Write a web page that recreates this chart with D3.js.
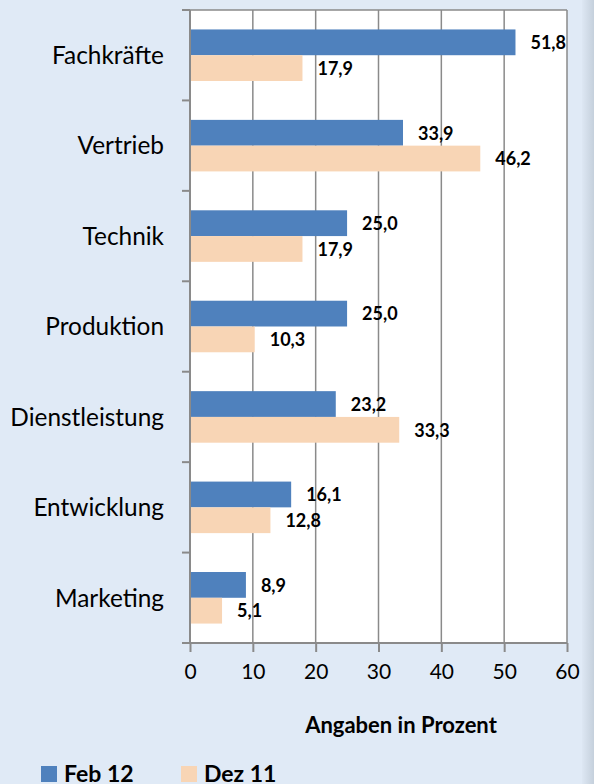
<!DOCTYPE html>
<html><head><meta charset="utf-8">
<script src="https://cdn.jsdelivr.net/npm/d3@7"></script>
<style>html,body{margin:0;padding:0;background:#e0eaf6;}svg{display:block;}</style>
</head><body>
<script>
const categories = ["Fachkräfte","Vertrieb","Technik","Produktion","Dienstleistung","Entwicklung","Marketing"];
const seriesNames = ["Feb 12","Dez 11"];
const feb12 = [51.8,33.9,25.0,25.0,23.2,16.1,8.9];
const dez11 = [17.9,46.2,17.9,10.3,33.3,12.8,5.1];
const xTicks = [0,10,20,30,40,50,60];
const axisTitle = "Angaben in Prozent";
const colors = ["#4f81bd","#f8d5b5"];

const W=594,H=784;
const svg=d3.select("body").append("svg").attr("width",W).attr("height",H);
const defs=svg.append("defs");
const g1=defs.append("linearGradient").attr("id","edge").attr("x1",0).attr("x2",1).attr("y1",0).attr("y2",0);
g1.append("stop").attr("offset",0).attr("stop-color","#dde7f3");
g1.append("stop").attr("offset",1).attr("stop-color","#c5d0dc");
svg.append("rect").attr("width",W).attr("height",H).attr("fill","#e0eaf6");
svg.append("rect").attr("x",582).attr("y",0).attr("width",12).attr("height",H).attr("fill","url(#edge)");

const L=190,R=567,T=10,B=643;
const x=d3.scaleLinear().domain([0,60]).range([L,R]);
const y=d3.scaleBand().domain(categories).range([T,B]).paddingInner(0.43).paddingOuter(0.215);
const sub=d3.scaleBand().domain(seriesNames).range([0,y.bandwidth()]);
const yOuter=d3.scaleBand().domain(categories).range([T,B]);

svg.append("rect").attr("x",L).attr("y",T).attr("width",R-L).attr("height",B-T).attr("fill","#fff");
const grid="#8a8a8a";
svg.append("g").selectAll("line").data(xTicks.slice(1)).join("line")
  .attr("x1",d=>x(d)).attr("x2",d=>x(d)).attr("y1",T).attr("y2",B)
  .attr("stroke",grid).attr("stroke-width",1.5);
svg.append("line").attr("x1",L).attr("x2",R).attr("y1",T).attr("y2",T).attr("stroke",grid).attr("stroke-width",1.5);

const data=categories.map((c,i)=>({c,vals:[feb12[i],dez11[i]]}));
const grp=svg.append("g").selectAll("g").data(data).join("g").attr("transform",d=>`translate(0,${y(d.c)})`);
grp.selectAll("rect").data(d=>d.vals.map((v,j)=>({v,s:seriesNames[j],j}))).join("rect")
  .attr("x",x(0)).attr("y",d=>sub(d.s)).attr("width",d=>x(d.v)-x(0)).attr("height",sub.bandwidth())
  .attr("fill",d=>colors[d.j]);
grp.selectAll("text").data(d=>d.vals.map((v,j)=>({v,s:seriesNames[j],j}))).join("text")
  .attr("x",d=>x(d.v)+15).attr("y",d=>sub(d.s)+sub.bandwidth()/2).attr("dy","0.38em")
  .attr("font-family","Lato").attr("font-weight","bold").attr("font-size",18).attr("fill","#000")
  .text(d=>d3.format(".1f")(d.v).replace(".",","));

// axes
const ax=svg.append("g").attr("transform",`translate(0,${B})`)
  .call(d3.axisBottom(x).tickValues(xTicks).tickSize(9).tickPadding(12).tickFormat(d=>d));
ax.select(".domain").attr("stroke",grid).attr("stroke-width",2).attr("d",`M${L-8},0H${R}`);
ax.selectAll(".tick line").attr("stroke",grid).attr("stroke-width",2);
ax.selectAll(".tick text").attr("font-family","Lato").attr("font-size",21).attr("fill","#000");

const ay=svg.append("g").attr("transform",`translate(${L},0)`);
ay.append("line").attr("y1",T).attr("y2",B).attr("stroke",grid).attr("stroke-width",2);
ay.selectAll("line.t").data(categories.concat(["_end"])).join("line").attr("class","t")
  .attr("x1",-8).attr("x2",0)
  .attr("y1",(d,i)=>i<categories.length?yOuter(d):B).attr("y2",(d,i)=>i<categories.length?yOuter(d):B)
  .attr("stroke",grid).attr("stroke-width",2);
ay.selectAll("text").data(categories).join("text")
  .attr("x",-26).attr("y",d=>yOuter(d)+yOuter.bandwidth()/2).attr("dy","0.36em")
  .attr("text-anchor","end").attr("font-family","Lato").attr("font-size",24.4).attr("fill","#000")
  .text(d=>d);

svg.append("text").attr("x",401).attr("y",733).attr("text-anchor","middle")
  .attr("font-family","Lato").attr("font-weight","bold").attr("font-size",22).text(axisTitle);

// legend
const lg=svg.append("g").selectAll("g").data(seriesNames).join("g")
  .attr("transform",(d,i)=>`translate(${[41,181][i]},766)`);
lg.append("rect").attr("width",16).attr("height",16).attr("fill",(d,i)=>colors[i]);
lg.append("text").attr("x",23).attr("y",16).attr("font-family","Lato").attr("font-weight","bold")
  .attr("font-size",23).text(d=>d);
</script>
</body></html>
